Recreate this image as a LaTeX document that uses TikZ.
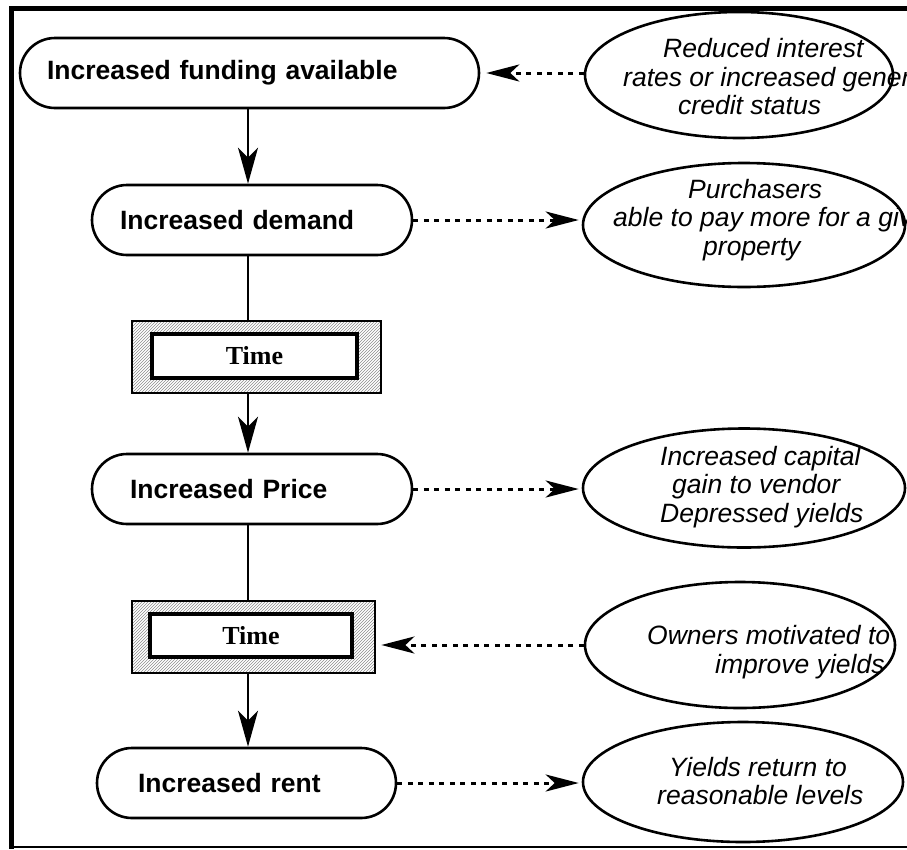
\documentclass[tikz,border=0pt]{standalone}
\usepackage{fontspec}
\setmainfont{Liberation Sans}
\newfontfamily\timesfont{Liberation Serif}
\usetikzlibrary{arrows.meta,shapes.geometric,patterns}

\tikzset{
  stage/.style={draw, line width=2.6pt, rounded corners=35pt, minimum height=70pt,
    inner ysep=0pt, align=left, font=\fontsize{26.5}{29}\selectfont\bfseries},
  note/.style={draw, ellipse, line width=2.6pt, inner sep=0pt},
  notetext/.style={inner sep=0pt, anchor=west, align=left,
    font=\fontsize{26.5}{28.5}\selectfont\itshape},
  delay/.style={draw, line width=2.8pt, pattern=north east lines, pattern color=black!45,
    inner sep=0pt},
  delayin/.style={draw, fill=white, line width=3.2pt, inner sep=0pt,
    font=\timesfont\fontsize{26}{28}\selectfont\bfseries},
  flow/.style={line width=2.6pt, -{Stealth[length=36pt, width=20pt, inset=10pt]}},
  link/.style={line width=2.6pt},
  hint/.style={line width=3pt, dash pattern=on 5pt off 5.5pt,
    -{Stealth[length=33pt, width=17pt, inset=9pt]}},
}

\begin{document}
\begin{tikzpicture}[x=1pt, y=-1pt]
  \useasboundingbox (0,0) rectangle (907,849);
  \clip (0,0) rectangle (907,849);

  % frame
  \draw[line width=4.5pt] (907,8.5) -- (11.5,8.5) -- (11.5,849);
  \draw[line width=2pt] (9,846.5) -- (907,846.5);

  % main chain
  \node[stage, text width=405pt, inner xsep=27pt] (b1) at (249.5,73) {Increased funding available};
  \node[stage, text width=264pt, inner xsep=28pt] (b2) at (252,220) {Increased demand};
  \node[delay, minimum width=249pt, minimum height=72pt] (t1) at (256.5,357) {};
  \node[delayin, minimum width=205pt, minimum height=44pt] (t1in) at (254.5,356) {Time};
  \node[stage, text width=244pt, inner xsep=38pt] (b3) at (252,489) {Increased Price};
  \node[delay, minimum width=243pt, minimum height=72pt] (t2) at (253.5,637) {};
  \node[delayin, minimum width=202pt, minimum height=43pt] (t2in) at (251,635.5) {Time};
  \node[stage, text width=217pt, inner xsep=41pt] (b4) at (246.5,783) {Increased rent};

  % side notes
  \node[note, minimum width=308pt, minimum height=126pt] (e1) at (739,75) {};
  \node[notetext] (e1t) at (623,77)
    {\hspace*{40pt}Reduced interest\\rates or increased general\\\hspace*{55pt}credit status};
  \node[note, minimum width=322pt, minimum height=124pt] (e2) at (744,225) {};
  \node[notetext] (e2t) at (613,220)
    {\hspace*{75pt}Purchasers\\able to pay more for a given\\\hspace*{90pt}property};
  \node[note, minimum width=322pt, minimum height=119pt] (e3) at (744,488) {};
  \node[notetext] (e3t) at (660,487)
    {Increased capital\\\hspace*{12pt}gain to vendor\\Depressed yields};
  \node[note, minimum width=310pt, minimum height=126pt] (e4) at (740,645) {};
  \node[notetext] (e4t) at (647,652)
    {Owners motivated to\\\hspace*{68pt}improve yields};
  \node[note, minimum width=320pt, minimum height=120pt] (e5) at (743,782) {};
  \node[notetext] (e5t) at (657,781)
    {\hspace*{12pt}Yields return to\\reasonable levels};

  % vertical flow
  \coordinate (axis) at (248,0);
  \draw[flow] (b1.south -| axis) -- (b2.north -| axis);
  \draw[link] (b2.south -| axis) -- (t1.north -| axis);
  \draw[flow] (t1.south -| axis) -- (b3.north -| axis);
  \draw[link] (b3.south -| axis) -- (t2.north -| axis);
  \draw[flow] (t2.south -| axis) -- (b4.north -| axis);

  % dotted influences
  \draw[hint, shorten >=6pt] (b1.east -| e1.west) -- (b1.east);
  \draw[hint, shorten >=3pt] (b2.east) -- (b2.east -| e2.west);
  \draw[hint, shorten >=3pt] (b3.east) -- (b3.east -| e3.west);
  \draw[hint, shorten >=5pt] (e4.west) -- (e4.west -| t2.east);
  \draw[hint, shorten >=3pt] (b4.east) -- (b4.east -| e5.west);
\end{tikzpicture}
\end{document}
